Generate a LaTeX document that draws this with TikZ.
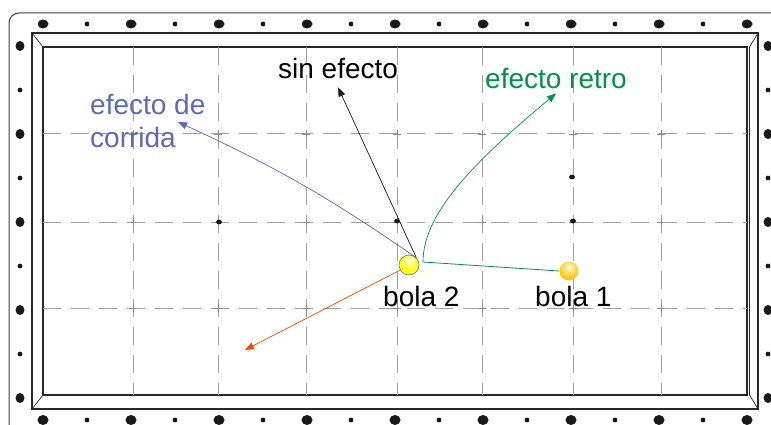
\documentclass[tikz,border=0pt]{standalone}
\usepackage{fontspec}
\setmainfont{Liberation Sans}
\usetikzlibrary{arrows.meta}

\definecolor{corridablue}{HTML}{5B6BB5}
\definecolor{retrogreen}{HTML}{00924C}
\definecolor{masered}{HTML}{F04800}
\definecolor{gridgray}{HTML}{A0A0A0}
\definecolor{twoyellow}{HTML}{FFFF1E}
\definecolor{oneyellow}{HTML}{FFCB1A}
\definecolor{onegold}{HTML}{F5B000}

\pgfdeclareradialshading{shinetwo}{\pgfpoint{0bp}{14bp}}{%
  color(0bp)=(white); color(7bp)=(twoyellow!40!white);
  color(20bp)=(twoyellow); color(50bp)=(twoyellow)}
\pgfdeclareradialshading{shineone}{\pgfpoint{0bp}{12bp}}{%
  color(0bp)=(white); color(8bp)=(oneyellow!45!white);
  color(24bp)=(oneyellow); color(40bp)=(onegold); color(50bp)=(onegold)}

\begin{document}
\begin{tikzpicture}[
  x=1pt, y=-1pt,
  every node/.style={font=\fontsize{28}{33}\selectfont, inner sep=0pt},
  lbl/.style={anchor=base west, align=left},
  gridline/.style={gridgray, line width=1pt, dash pattern=on 18pt off 10pt},
  gridcross/.style={black!45, line width=0.7pt},
  bigdot/.style={fill=black!90},
  ballnode/.style={circle, minimum size=20pt, inner sep=0pt},
  arr/.style={-{Triangle[length=9pt, width=7pt]}, line width=0.7pt}
]
\useasboundingbox (0,0) rectangle (771,425);
\clip (0,0) rectangle (771,425);
\fill[white] (0,0) rectangle (771,425);

% frame and cushions
\draw[black!75, line width=1pt, rounded corners=10pt] (9,13) rectangle (800,450);
\draw[black!85, line width=1.3pt] (32,33) rectangle (758,409);
\draw[black!85, line width=1.2pt] (43,47) rectangle (747,395);
\draw[black!85, line width=0.6pt] (749.5,47) -- (749.5,395);
\draw[black!85, line width=0.7pt]
  (32,33) -- (43,47) (758,33) -- (749.5,47)
  (32,409) -- (43,395) (758,409) -- (749.5,395);

% diamonds on the rails
\foreach \i in {0,...,16} {
  \pgfmathsetmacro{\dx}{43+44*\i}
  \ifodd\i
    \fill[bigdot] (\dx,24) circle[radius=2.4];
    \fill[bigdot] (\dx,420) circle[radius=2.4];
  \else
    \fill[bigdot] (\dx,24) ellipse[x radius=5.5, y radius=4.5];
    \fill[bigdot] (\dx,420) ellipse[x radius=5.5, y radius=5];
  \fi
}
\foreach \j in {0,...,8} {
  \pgfmathsetmacro{\dy}{46+44*\j}
  \ifodd\j
    \fill[bigdot] (20,\dy) circle[radius=2.4];
    \fill[bigdot] (768,\dy) circle[radius=2.4];
  \else
    \fill[bigdot] (20,\dy) ellipse[x radius=4.5, y radius=5];
    \fill[bigdot] (768,\dy) ellipse[x radius=4.5, y radius=5];
  \fi
}

% grid
\foreach \gx in {133,218,306,397,482,573,661}
  \draw[gridline] (\gx,47) -- (\gx,395);
\foreach \gy in {134,222,308}
  \draw[gridline] (43,\gy) -- (747,\gy);
\foreach \gx in {133,218,306,397,482,573,661}
  \foreach \gy in {134,222,308}
    \draw[gridcross] ({\gx-4},\gy) -- ({\gx+4},\gy) (\gx,{\gy-4}) -- (\gx,{\gy+4});

% spots on the cloth
\foreach \sx/\sy in {219/222, 397/221, 573/221, 572/177}
  \fill[bigdot] (\sx,\sy) ellipse[x radius=3, y radius=2.4];

% balls
\node[ballnode, shade, shading=shinetwo, draw=black!55, line width=0.6pt] (ball2) at (409,265) {};
\node[ballnode, minimum size=19pt, shade, shading=shineone] (ball1) at (569,271) {};

% labels
\node[lbl] (bola2) at (383,306) {bola 2};
\node[lbl] (bola1) at (535,306) {bola 1};
\node[lbl] (sinef) at (278,79) {sin efecto};
\node[lbl, text=retrogreen] (retro) at (485,89) {efecto retro};
\node[lbl, text=corridablue] (corrida) at (90,148) {efecto de\\corrida};

\coordinate (hit) at (423,262);
\coordinate (corridatip) at (178,122);
\coordinate (masetip) at (245,350);

% paths
\draw[retrogreen, line width=0.8pt] (ball1.west) -- (hit);
\draw[arr, retrogreen] (hit) .. controls (423,215) and (470,165) .. ([yshift=-4pt]retro.south);
\draw[arr, black!90] (ball2.north east) -- ([yshift=-8pt]sinef.south);
\draw[arr, corridablue] (ball2.north east) to[bend right=5] (corridatip);
\draw[arr, masered] (ball2.210) -- (masetip);

\end{tikzpicture}
\end{document}
